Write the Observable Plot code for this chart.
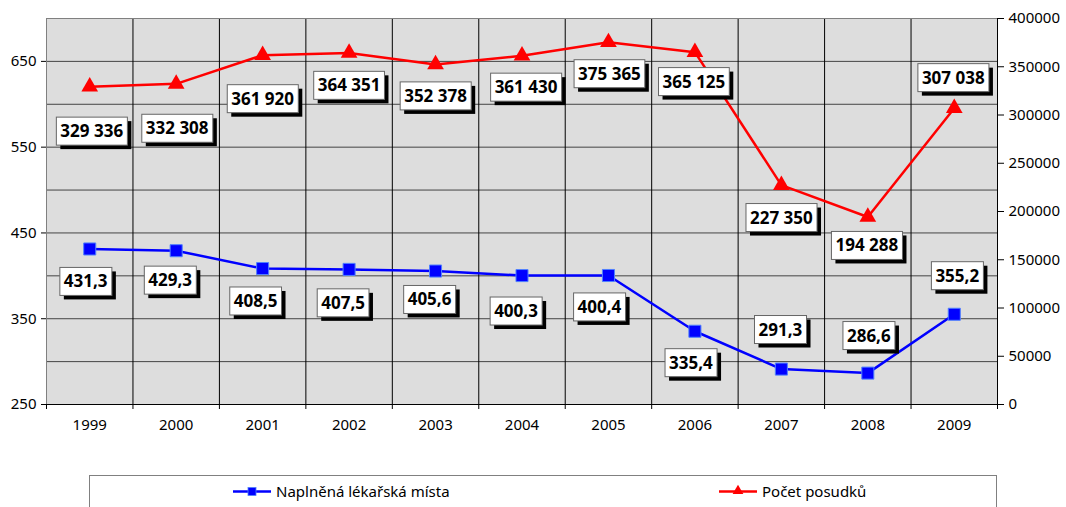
<!DOCTYPE html>
<html><head><meta charset="utf-8">
<script src="https://cdn.jsdelivr.net/npm/d3@7"></script>
<script src="https://cdn.jsdelivr.net/npm/@observablehq/plot@0.6"></script>
<style>
body{margin:0;background:#fff;font-family:"Noto Sans",sans-serif;}
#chart{position:relative;width:1066px;height:475px;}
#legend{position:absolute;left:89px;top:475px;width:908px;height:40px;border:1px solid #808080;box-sizing:border-box;background:#fff;}
</style></head>
<body>
<div id="chart"></div>
<div id="legend"></div>
<script>
// ---- data ----
const years = [1999, 2000, 2001, 2002, 2003, 2004, 2005, 2006, 2007, 2008, 2009];
const doctors = [431.3, 429.3, 408.5, 407.5, 405.6, 400.3, 400.4, 335.4, 291.3, 286.6, 355.2];
const opinions = [329336, 332308, 361920, 364351, 352378, 361430, 375365, 365125, 227350, 194288, 307038];
const leftTicks = [250, 350, 450, 550, 650];
const gridValues = [300, 350, 400, 450, 500, 550, 600, 650];
const rightTicks = [0, 50000, 100000, 150000, 200000, 250000, 300000, 350000, 400000];
const seriesNames = ["Naplněná lékařská místa", "Počet posudků"];

// ---- layout (pixel offsets of data labels) ----
const blueOff = [[-4,33],[-6,30],[-7,33],[-6,34],[-6,29],[-6,36],[-9,32],[-4,32],[-1,-39],[1,-37],[3,-38]];
const redOff  = [[2,45],[1,45],[0,44],[0,33],[0,32],[4,32],[1,32],[-1,30],[0,33],[-1,29],[-1,-30]];

const leftDomain = [250, 700];
const rightMax = 400000;
const toLeft = v => leftDomain[0] + v / rightMax * (leftDomain[1] - leftDomain[0]);
const fromLeft = y => Math.round((y - leftDomain[0]) / (leftDomain[1] - leftDomain[0]) * rightMax);

const fmtDoc = v => v.toFixed(1).replace(".", ",");
const fmtOp = v => d3.format(",")(v).replace(/,/g, " ");

const blueData = years.map((year, i) => ({year, value: doctors[i], label: fmtDoc(doctors[i])}));
const redData = years.map((year, i) => ({year, value: toLeft(opinions[i]), label: fmtOp(opinions[i])}));
const bounds = d3.range(years.length + 1).map(i => years[0] - 0.5 + i);

const BLUE = "#0000ff", RED = "#ff0000";

const labelMarks = [];
blueData.forEach((d, i) => labelMarks.push(Plot.text([d], {x: "year", y: "value", text: "label", dx: blueOff[i][0], dy: blueOff[i][1], fontSize: 17, fontWeight: "bold", fill: "#000"})));
redData.forEach((d, i) => labelMarks.push(Plot.text([d], {x: "year", y: "value", text: "label", dx: redOff[i][0], dy: redOff[i][1], fontSize: 17, fontWeight: "bold", fill: "#000"})));

const chart = Plot.plot({
  width: 1066, height: 475,
  marginLeft: 46, marginRight: 69, marginTop: 18, marginBottom: 71,
  style: {fontFamily: "'Noto Sans', sans-serif", fontSize: "15px", background: "#fff", overflow: "visible"},
  x: {type: "linear", domain: [bounds[0], bounds[bounds.length - 1]]},
  y: {domain: leftDomain},
  marks: [
    Plot.frame({fill: "#dddddd", stroke: null}),
    Plot.ruleY(gridValues, {stroke: "#444", strokeWidth: 1}),
    Plot.ruleX(bounds.slice(1, -1), {stroke: "#000", strokeWidth: 1}),
    Plot.frame({stroke: "#808080"}),
    Plot.ruleY([leftDomain[0]], {stroke: "#000"}),
    Plot.ruleX([bounds[bounds.length - 1]], {stroke: "#000"}),
    Plot.axisY(leftTicks, {anchor: "left", tickSize: 5, tickPadding: 5, label: null, tickFormat: d => String(d)}),
    Plot.axisY(rightTicks.map(toLeft), {anchor: "right", tickSize: 6, tickPadding: 5, label: null, tickFormat: d => String(fromLeft(d))}),
    Plot.axisX(years, {anchor: "bottom", tickSize: 0, tickPadding: 15, label: null, tickFormat: d => String(d)}),
    Plot.axisX(bounds, {anchor: "bottom", tickSize: 5, label: null, tickFormat: () => ""}),
    Plot.line(blueData, {x: "year", y: "value", stroke: BLUE, strokeWidth: 2.5}),
    Plot.dot(blueData, {x: "year", y: "value", symbol: "square", r: 6.8, fill: BLUE, stroke: "#5080ff", strokeWidth: 1}),
    Plot.line(redData, {x: "year", y: "value", stroke: RED, strokeWidth: 2.5}),
    Plot.dot(redData, {x: "year", y: "value", symbol: "triangle", r: 6.2, fill: RED, stroke: null}),
    ...labelMarks
  ]
});
document.getElementById("chart").append(chart);

// label boxes with drop shadow
const NS = "http://www.w3.org/2000/svg";
function mkRect(x, y, w, h, fill, stroke, tr) {
  const r = document.createElementNS(NS, "rect");
  r.setAttribute("x", x); r.setAttribute("y", y);
  r.setAttribute("width", w); r.setAttribute("height", h);
  r.setAttribute("fill", fill);
  r.setAttribute("stroke", stroke || "none");
  if (stroke) r.setAttribute("stroke-width", 1);
  if (tr) r.setAttribute("transform", tr);
  return r;
}
chart.querySelectorAll('g[font-weight="bold"] text').forEach(t => {
  const bb = t.getBBox();
  const padX = 4, h = 28;
  const x = bb.x - padX, w = bb.width + 2 * padX;
  const y = bb.y + bb.height / 2 - h / 2 + 0.5;
  const tr = t.getAttribute("transform");
  t.parentNode.insertBefore(mkRect(x + 4, y + 4, w, h, "#000", null, tr), t);
  t.parentNode.insertBefore(mkRect(x, y, w, h, "#fff", "#666", tr), t);
});

// legend
const leg = d3.select("#legend").append("svg")
  .attr("width", 906).attr("height", 38)
  .style("position", "absolute").style("left", "0px").style("top", "0px")
  .style("font-family", "'Noto Sans', sans-serif").style("font-size", "15px");
const items = [
  {name: seriesNames[0], color: BLUE, x0: 143, sym: "square"},
  {name: seriesNames[1], color: RED, x0: 629, sym: "triangle"}
];
items.forEach(it => {
  const g = leg.append("g");
  g.append("line").attr("x1", it.x0).attr("x2", it.x0 + 38).attr("y1", 15.5).attr("y2", 15.5)
    .attr("stroke", it.color).attr("stroke-width", 2.5);
  if (it.sym === "square") {
    g.append("rect").attr("x", it.x0 + 15).attr("y", 11.5).attr("width", 8).attr("height", 8)
      .attr("fill", it.color).attr("stroke", "#5080ff").attr("stroke-width", 0.8);
  } else {
    g.append("path").attr("d", d3.symbol(d3.symbolTriangle, 50)()).attr("transform", `translate(${it.x0 + 19},15)`)
      .attr("fill", it.color);
  }
  g.append("text").attr("x", it.x0 + 43).attr("y", 21).attr("fill", "#000").text(it.name);
});
</script>
</body></html>
